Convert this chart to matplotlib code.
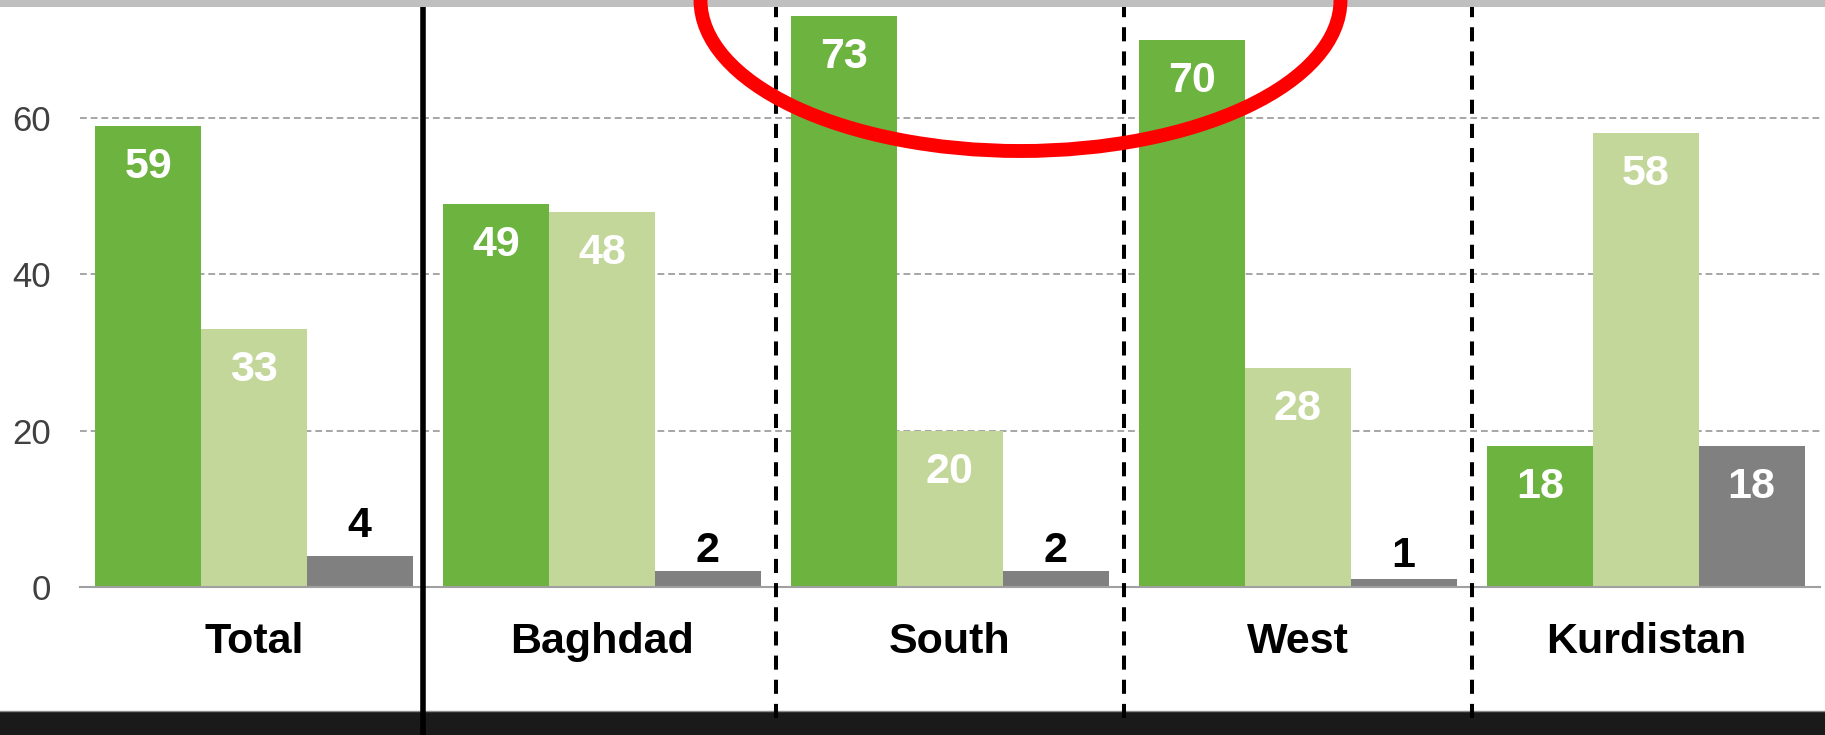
import matplotlib
matplotlib.use('Agg')
import matplotlib.pyplot as plt
import numpy as np
from matplotlib.patches import Rectangle, Ellipse
from matplotlib.lines import Line2D
from matplotlib.transforms import blended_transform_factory

plt.rcParams['font.family'] = ['Liberation Sans', 'DejaVu Sans']

regions = ['Total', 'Baghdad', 'South', 'West', 'Kurdistan']
series_a = [59, 49, 73, 70, 18]
series_b = [33, 48, 20, 28, 58]
series_c = [4, 2, 2, 1, 18]
y_ticks = [0, 20, 40, 60]

colors = ['#6db33f', '#c4d79b', '#808080']

fig = plt.figure(figsize=(18.25, 7.35), dpi=100)
ax = fig.add_axes([0.0438, 0.2014, 0.9534, 0.798])

x = np.arange(len(regions))
width = 0.304

for i, (vals, col) in enumerate(zip([series_a, series_b, series_c], colors)):
    pos = x + (i - 1) * width
    ax.bar(pos, vals, width, color=col, zorder=2)
    for px, v in zip(pos, vals):
        if v >= 10:
            # label inside the top of the bar
            ax.text(px, v - 6.65, str(v), ha='center', va='baseline',
                    color='white', fontsize=31, fontweight='bold', zorder=3)
        else:
            # short bars get the label above
            ax.text(px, max(2.6, 1.6 * v), str(v), ha='center', va='baseline',
                    color='black', fontsize=31, fontweight='bold', zorder=3)

ax.set_xlim(-0.5, 4.5)
ax.set_ylim(0, 75)
ax.set_yticks(y_ticks)
ax.set_yticklabels([str(t) for t in y_ticks])
ax.set_xticks([])
ax.tick_params(axis='y', length=0, pad=21, labelsize=25, labelcolor='#404040')

for s in ['top', 'right', 'left']:
    ax.spines[s].set_visible(False)
ax.spines['bottom'].set_color('#a0a0a0')
ax.spines['bottom'].set_linewidth(1.5)
ax.spines['bottom'].set_zorder(2.5)

ax.yaxis.grid(True, color='#a6a6a6', linewidth=1.4, linestyle=(0, (3.5, 2)))
ax.set_axisbelow(True)

# category names under each group
for xi, name in zip(x, regions):
    ax.text(xi, -8.4, name, ha='center', va='baseline', fontsize=31,
            fontweight='bold', color='black', clip_on=False)

# dark strip at the bottom and grey strip at the top
fig.add_artist(Rectangle((0, 0), 1, 24 / 735, transform=fig.transFigure,
                         facecolor='#1a1a1a', edgecolor='none', zorder=2))
fig.add_artist(Line2D([0, 1], [24 / 735, 24 / 735], transform=fig.transFigure,
                      color='#8a8a8a', linewidth=1, zorder=2.5))
fig.add_artist(Rectangle((0, 1 - 7 / 735), 1, 7 / 735, transform=fig.transFigure,
                         facecolor='#bfbfbf', edgecolor='none', zorder=6))

# separators between the groups
tr = blended_transform_factory(ax.transData, fig.transFigure)
fig.add_artist(Line2D([0.485, 0.485], [0, 1], transform=tr, color='black',
                      linewidth=4, zorder=5))
for sx in [1.5, 2.5, 3.5]:
    fig.add_artist(Line2D([sx, sx], [17 / 735, 1], transform=tr, color='black',
                          linewidth=2.9, linestyle=(0, (3.5, 2.5)), zorder=5))

# red highlight ring round South and West
fig.add_artist(Ellipse((1020.5 / 1825, 1.0), 640 / 1825, 302 / 735,
                       transform=fig.transFigure, fill=False, edgecolor='#ff0000',
                       linewidth=10, zorder=7))

fig.savefig('out.png', dpi=100)
